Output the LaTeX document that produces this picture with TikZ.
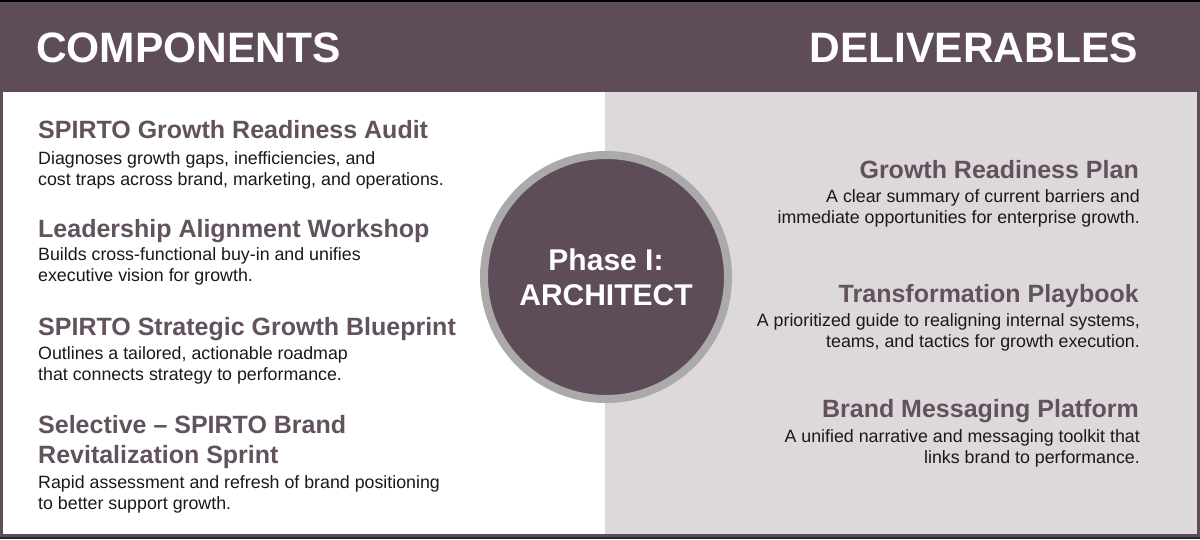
\documentclass[tikz,border=0pt]{standalone}
\usepackage{fontspec}
\setmainfont{Liberation Sans}
\usetikzlibrary{positioning}
\definecolor{plum}{RGB}{94,76,88}
\definecolor{plumtext}{RGB}{98,82,94}
\definecolor{paleplum}{RGB}{221,216,218}
\definecolor{ringgray}{RGB}{170,170,170}

\begin{document}
\begin{tikzpicture}[x=1pt,y=-1pt,
  head/.style={font=\fontsize{42.5}{48}\selectfont\bfseries,text=white,inner sep=0},
  ttl/.style={font=\fontsize{25}{30}\selectfont\bfseries,text=plumtext,inner sep=0},
  desc/.style={font=\fontsize{17.8}{21.5}\selectfont,text=black!90,inner sep=0}]
\useasboundingbox (0,0) rectangle (1200,539);
\fill[plum] (0,0) rectangle (1200,539);
\fill[black] (0,0) rectangle (1200,2);
\fill[black!85] (0,537) rectangle (1200,539);
\fill[white] (3,92) rectangle (605,534);
\fill[paleplum] (605,92) rectangle (1197,534);
\node[head,anchor=base west] (comp) at (36,62) {COMPONENTS};
\node[head,anchor=base east] (deliv) at (1138,62) {DELIVERABLES};
% components (multi-line nodes sit on their last baseline)
\node[ttl,anchor=base west] (c1) at (38,138) {SPIRTO Growth Readiness Audit};
\node[desc,anchor=base west,align=left] (c1d) at (38,185.5) {Diagnoses growth gaps, inefficiencies, and\\cost traps across brand, marketing, and operations.};
\node[ttl,anchor=base west] (c2) at (38,237) {Leadership Alignment Workshop};
\node[desc,anchor=base west,align=left] (c2d) at (38,281.5) {Builds cross-functional buy-in and unifies\\executive vision for growth.};
\node[ttl,anchor=base west] (c3) at (38,335) {SPIRTO Strategic Growth Blueprint};
\node[desc,anchor=base west,align=left] (c3d) at (38,380.5) {Outlines a tailored, actionable roadmap\\that connects strategy to performance.};
\node[ttl,anchor=base west,align=left] (c4) at (38,463) {Selective -- SPIRTO Brand\\Revitalization Sprint};
\node[desc,anchor=base west,align=left] (c4d) at (38,509.5) {Rapid assessment and refresh of brand positioning\\to better support growth.};
% deliverables
\node[ttl,anchor=base east] (d1) at (1139,178) {Growth Readiness Plan};
\node[desc,anchor=base east,align=right] (d1d) at (1140,223.5) {A clear summary of current barriers and\\immediate opportunities for enterprise growth.};
\node[ttl,anchor=base east] (d2) at (1139,302) {Transformation Playbook};
\node[desc,anchor=base east,align=right] (d2d) at (1140,347.5) {A prioritized guide to realigning internal systems,\\teams, and tactics for growth execution.};
\node[ttl,anchor=base east] (d3) at (1139,417) {Brand Messaging Platform};
\node[desc,anchor=base east,align=right] (d3d) at (1140,463.5) {A unified narrative and messaging toolkit that\\links brand to performance.};
% phase circle
\node[circle,fill=plum,draw=ringgray,line width=8pt,minimum size=244pt,inner sep=0,
  text=white,align=center,font=\fontsize{30}{35}\selectfont\bfseries] (phase) at (606,277) {Phase I:\\ARCHITECT};
\end{tikzpicture}
\end{document}
